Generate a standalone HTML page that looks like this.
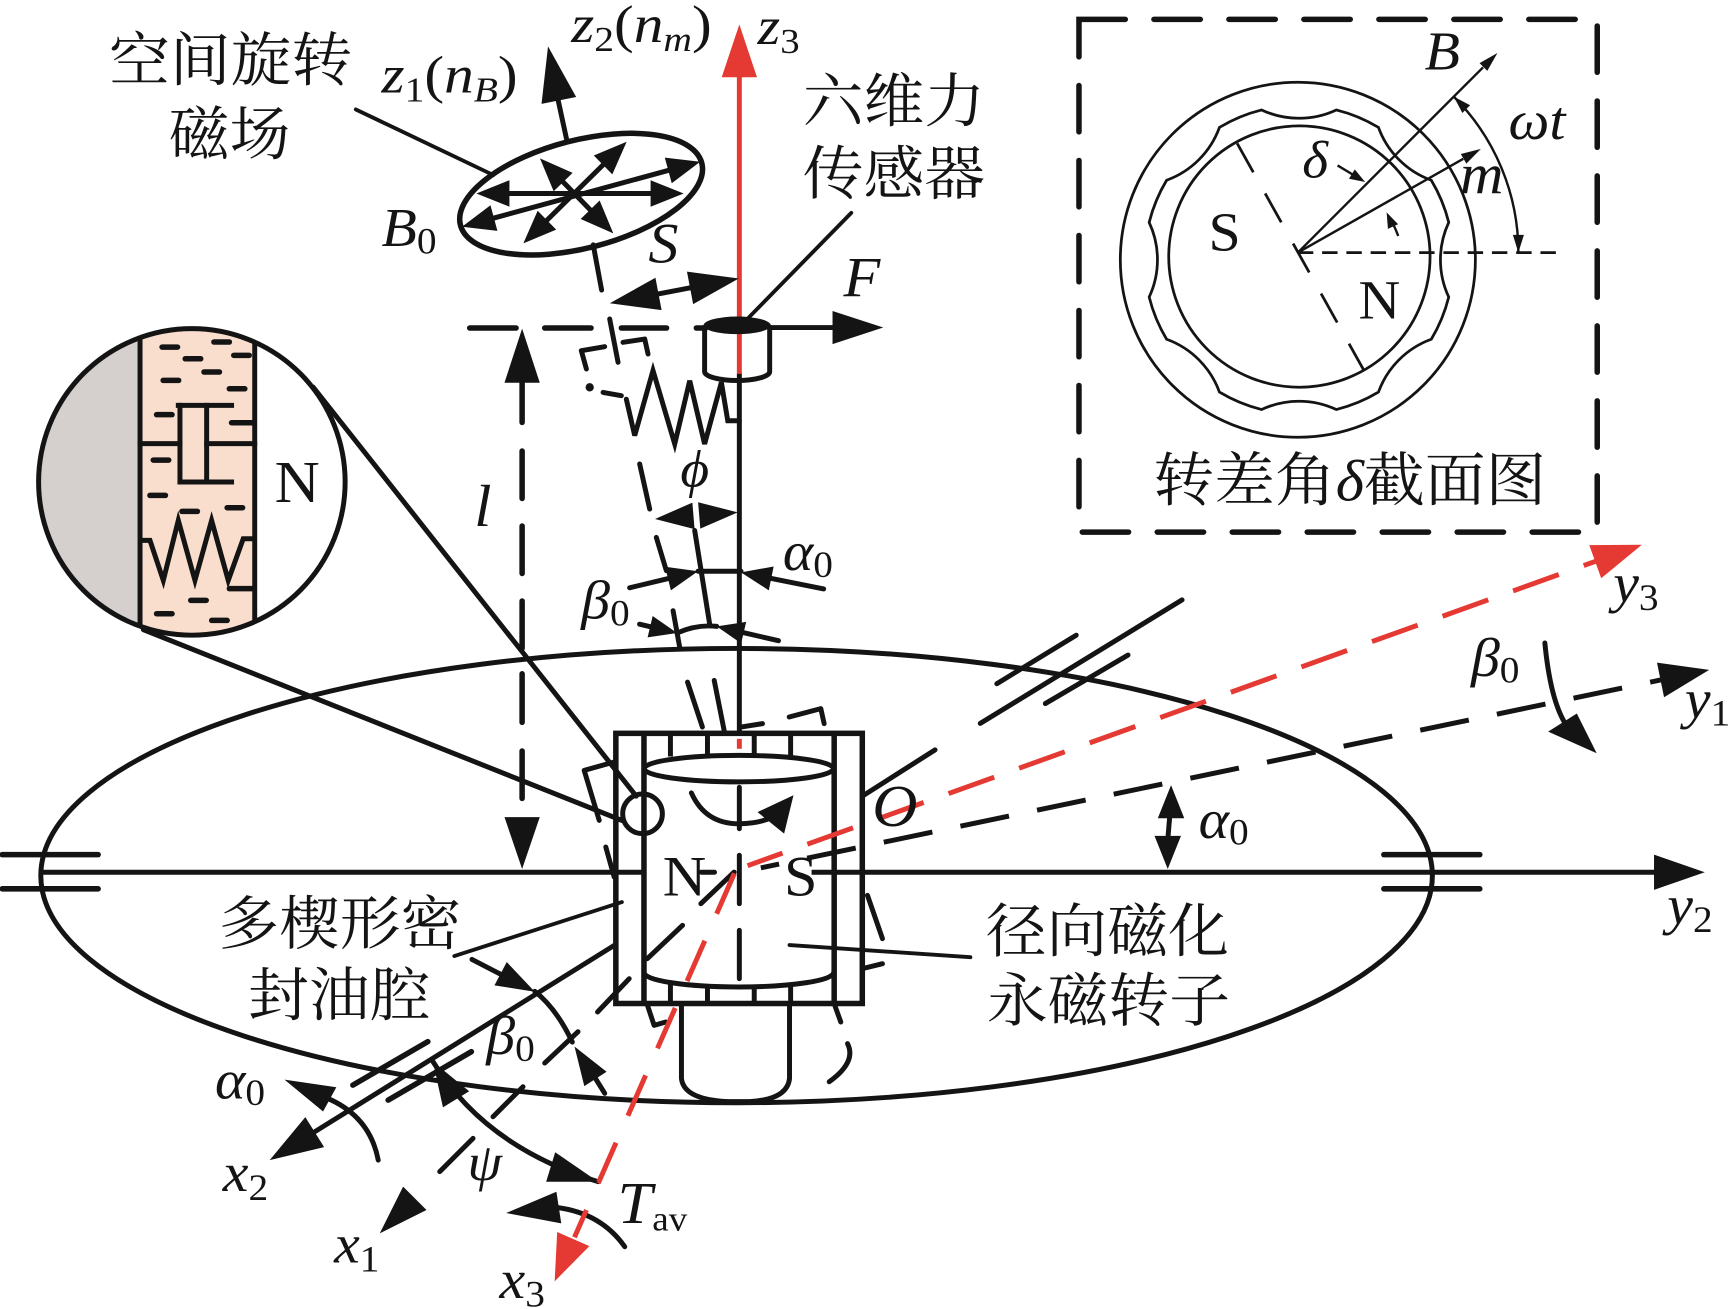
<!DOCTYPE html>
<html><head><meta charset="utf-8">
<style>
html,body{margin:0;padding:0;background:#fff;}
svg{display:block;}
text{font-family:"Liberation Serif","Noto Serif CJK SC",serif;fill:#141414;}
.it{font-style:italic;}
.up{font-style:normal;}
.cjk{font-family:"Liberation Serif","Noto Serif CJK SC",serif;font-size:53px;}
</style></head><body>
<svg width="1729" height="1309" viewBox="0 0 1568 1187" xmlns="http://www.w3.org/2000/svg">
<defs>
<clipPath id="cc"><circle cx="174" cy="437" r="139"/></clipPath>
</defs>
<rect x="0" y="0" width="1568" height="1187" fill="#fff"/>

<!-- ===== Left inset circle ===== -->
<g clip-path="url(#cc)">
  <rect x="30" y="290" width="97" height="300" fill="#d5cfcd"/>
  <rect x="127" y="290" width="104" height="300" fill="#f9dece"/>
  <g stroke="#141414" stroke-width="4.5" fill="none">
    <line x1="127" y1="290" x2="127" y2="590"/>
    <line x1="231" y1="290" x2="231" y2="590"/>
  </g>
</g>
<g stroke="#141414" stroke-width="5" stroke-linecap="round" fill="none">
  <line x1="147" y1="314.7" x2="161" y2="314.7"/>
  <line x1="194" y1="310.1" x2="208" y2="310.1"/>
  <line x1="168" y1="325.3" x2="182" y2="325.3"/>
  <line x1="212" y1="322.2" x2="226" y2="322.2"/>
  <line x1="185" y1="337.3" x2="199" y2="337.3"/>
  <line x1="148" y1="344.9" x2="162" y2="344.9"/>
  <line x1="208" y1="352.5" x2="222" y2="352.5"/>
  <line x1="142" y1="376" x2="156" y2="376"/>
  <line x1="210" y1="383.3" x2="229" y2="383.3"/>
  <line x1="139" y1="417.2" x2="153" y2="417.2"/>
  <line x1="136" y1="449.2" x2="150" y2="449.2"/>
  <line x1="165" y1="463.7" x2="179" y2="463.7"/>
  <line x1="206" y1="460.4" x2="220" y2="460.4"/>
  <line x1="208" y1="533.8" x2="229" y2="533.8"/>
  <line x1="173" y1="544.4" x2="187" y2="544.4"/>
  <line x1="142" y1="556.5" x2="156" y2="556.5"/>
  <line x1="192" y1="562.6" x2="206" y2="562.6"/>
</g>
<g stroke="#141414" stroke-width="4.5" fill="none" stroke-linecap="square">
  <line x1="161.7" y1="367.6" x2="210" y2="367.6"/>
  <line x1="163.2" y1="367.6" x2="163.2" y2="437.1"/>
  <line x1="187.4" y1="367.6" x2="187.4" y2="434"/>
  <line x1="163.2" y1="437.1" x2="210" y2="437.1"/>
  <line x1="127" y1="402.3" x2="163.2" y2="402.3"/>
  <line x1="187.4" y1="402.3" x2="231" y2="402.3"/>
  <polyline stroke-linecap="butt" points="127,490 136,490 148.1,526.3 161.7,471.9 176.8,526.3 191.9,471.9 207,526.3 220.6,488.5 231,488.5"/>
</g>
<circle cx="174" cy="437" r="139" fill="none" stroke="#141414" stroke-width="4.5"/>
<text class="up" font-size="54" transform="translate(249,455) scale(1.05,1)">N</text>

<!-- ===== Main black line work ===== -->
<g stroke="#141414" stroke-width="4.5" fill="none" stroke-linecap="round" stroke-linejoin="round">
  <ellipse cx="668" cy="794" rx="631" ry="206"/>
  <g stroke-width="5">
    <line x1="2" y1="775" x2="89" y2="775"/>
    <line x1="2" y1="806" x2="89" y2="806"/>
    <line x1="1255" y1="775" x2="1342" y2="775"/>
    <line x1="1255" y1="806" x2="1342" y2="806"/>
  </g>
  <line x1="35" y1="791" x2="584" y2="791" stroke-linecap="butt"/>
  <line x1="636" y1="791" x2="648" y2="791"/>
  <line x1="736" y1="791" x2="1502" y2="791" stroke-linecap="butt"/>

  <line x1="284" y1="351" x2="577" y2="722"/>
  <line x1="130" y1="571" x2="564" y2="744"/>
  <circle cx="582.7" cy="738" r="18"/>

  <line x1="782" y1="722" x2="848" y2="680"/>
  <line x1="889" y1="656" x2="1072" y2="544"/>
  <line x1="904" y1="620" x2="976" y2="576"/>
  <line x1="948" y1="638" x2="1023" y2="594"/>

  <line x1="716" y1="857" x2="880" y2="868" stroke-width="3.5"/>
  <line x1="412" y1="867" x2="564" y2="818" stroke-width="3.5"/>
  <line x1="677" y1="290" x2="772" y2="193" stroke-width="3.5"/>
  <line x1="322.7" y1="99.2" x2="447.4" y2="158.7" stroke-width="3.5"/>

  <line x1="670.5" y1="339" x2="670.5" y2="665"/>
  <line x1="699" y1="297" x2="757" y2="297"/>
  <g stroke-width="5">
    <line x1="426" y1="297.4" x2="468" y2="297.4"/>
    <line x1="494" y1="297.4" x2="536" y2="297.4"/>
    <line x1="563.5" y1="297.4" x2="604.5" y2="297.4"/>
    <line x1="631.5" y1="297.4" x2="640" y2="297.4"/>
  </g>
  <g stroke-width="5">
    <line x1="473.5" y1="347" x2="473.5" y2="383"/>
    <line x1="473.5" y1="409" x2="473.5" y2="452"/>
    <line x1="473.5" y1="477" x2="473.5" y2="520"/>
    <line x1="473.5" y1="545" x2="473.5" y2="588"/>
    <line x1="473.5" y1="611" x2="473.5" y2="655"/>
    <line x1="473.5" y1="681" x2="473.5" y2="724"/>
  </g>
  <line x1="597" y1="266.5" x2="626" y2="261"/>

  <!-- tilted rotating-field ellipse -->
  <ellipse cx="527" cy="176" rx="113" ry="49" transform="rotate(-14.4 527 176)" stroke-width="5"/>
  <g stroke-width="4.5">
    <line x1="462" y1="175.4" x2="590" y2="175.4"/>
    <line x1="447.9" y1="197.7" x2="606" y2="154.5"/>
    <line x1="510.7" y1="165" x2="535.2" y2="190.2"/>
    <line x1="496" y1="199.7" x2="546.9" y2="149.5"/>
  </g>
  <line x1="514" y1="127" x2="506" y2="90"/>
  <line x1="538" y1="222" x2="545.6" y2="263"/>

  <!-- tilted dashed assembly -->
  <line x1="527.2" y1="318" x2="531.8" y2="334.6"/>
  <line x1="527.2" y1="318" x2="548.4" y2="314.3"/>
  <line x1="552.9" y1="289.2" x2="560.5" y2="328.5"/>
  <polyline points="565,310.4 584.7,307.4 587.7,321"/>
  <circle cx="534.8" cy="351.2" r="1.5" fill="#141414"/>
  <line x1="546.9" y1="355.8" x2="563.5" y2="358.8"/>
  <polyline stroke-linejoin="miter" points="670.5,381.5 660,381.5 654.2,346.7 639,402.6 625.5,345.2 611.9,402.6 592.2,336 575.6,395 568,362"/>
  <line x1="580.1" y1="420.7" x2="589.2" y2="461.6"/>
  <line x1="595.2" y1="487.3" x2="604.3" y2="517.5"/>
  <line x1="610.4" y1="553.8" x2="616.4" y2="587"/>
  <line x1="623.5" y1="618.5" x2="637" y2="659.3"/>
  <line x1="630" y1="481" x2="643.6" y2="566"/>
  <line x1="647.7" y1="617" x2="656.7" y2="662.3"/>
  <line x1="571" y1="533" x2="606" y2="524.6"/>
  <line x1="747" y1="534" x2="699.4" y2="524.5"/>
  <line x1="633" y1="518" x2="672" y2="518"/>
  <line x1="580" y1="566" x2="589.6" y2="568.3"/>
  <line x1="706" y1="581" x2="674.4" y2="573.7"/>
  <path d="M614,574 Q632,566 650,568"/>

  <line x1="671.8" y1="659.3" x2="691.5" y2="656.2"/>
  <polyline points="715.7,650.2 744.4,642.6 747.4,656.2"/>
  <polyline points="557,691 529.8,698.6 543.4,743.9"/>
  <line x1="549.4" y1="768.1" x2="557" y2="795.3"/>
  <polyline points="587.2,911.7 593.2,929.8 603.8,926.8"/>
  <line x1="756.5" y1="910.2" x2="762.5" y2="926.8"/>
  <path d="M768.6,946.4 Q777,963 752,981"/>
  <line x1="786.7" y1="811.9" x2="800.3" y2="851.2"/>
  <line x1="782.2" y1="878.4" x2="800.3" y2="873.9"/>

  <!-- cylinder frame -->
  <rect x="558.5" y="665" width="223.5" height="245" stroke-width="5" stroke-linejoin="miter"/>
  <line x1="584" y1="665" x2="584" y2="910" stroke-width="5" stroke-linecap="butt"/>
  <line x1="756.5" y1="665" x2="756.5" y2="910" stroke-width="5" stroke-linecap="butt"/>
  <g stroke-linecap="butt">
    <line x1="608" y1="665" x2="608" y2="686"/>
    <line x1="641.6" y1="665" x2="641.6" y2="686"/>
    <line x1="684" y1="665" x2="684" y2="686"/>
    <line x1="717" y1="665" x2="717" y2="686"/>
    <line x1="608" y1="891" x2="608" y2="910"/>
    <line x1="641.6" y1="893" x2="641.6" y2="910"/>
    <line x1="684" y1="893" x2="684" y2="910"/>
    <line x1="717" y1="891" x2="717" y2="910"/>
  </g>
  <ellipse cx="670" cy="697" rx="86" ry="12"/>
  <path d="M584,882 A86,13 0 0,0 756,882"/>
  <path d="M627,719 Q640,748 672,747 Q695,746 705,738"/>
  <line x1="670.5" y1="714" x2="670.5" y2="751.5"/>
  <line x1="670.5" y1="775.6" x2="670.5" y2="819.5"/>
  <line x1="670.5" y1="843.7" x2="670.5" y2="887.5"/>
  <path d="M618,910 L618,978 Q620,997 660,999 L680,999 Q714,997 716,978 L716,910"/>

  <line x1="635.6" y1="819.5" x2="665.8" y2="790.8"/>
  <line x1="587" y1="869.4" x2="619" y2="839.1"/>
  <line x1="541.9" y1="917.7" x2="570.6" y2="887.5"/>
  <line x1="494" y1="964" x2="524.2" y2="935.6"/>
  <line x1="447.1" y1="1012.7" x2="474.3" y2="985.5"/>
  <line x1="398.8" y1="1062.5" x2="429" y2="1032.3"/>
  <line x1="557.5" y1="857" x2="285" y2="1026.6"/>
  <line x1="320" y1="984" x2="388" y2="944.6" stroke-width="5"/>
  <line x1="352" y1="997.6" x2="427.5" y2="953.7" stroke-width="5"/>
  <line x1="428" y1="870" x2="455" y2="884"/>
  <path d="M485,899 Q505,915 519,945"/>
  <line x1="548.4" y1="991.5" x2="540" y2="978"/>
  <path d="M392.7,962.8 Q440,1040 542.4,1071.6"/>
  <path d="M343,1052 Q335,1010 292,994"/>
  <path d="M566.6,1130.6 Q545,1100 505,1095"/>
  <line x1="1061" y1="738" x2="1059" y2="762"/>
  <path d="M1401,583 Q1406,635 1420,657"/>
</g>

<line x1="690" y1="787" x2="1506" y2="616.6" stroke="#141414" stroke-width="4.5" stroke-dasharray="45 26" stroke-dashoffset="28.1"/>

<g stroke="#e53a33" stroke-width="4.5" fill="none">
  <line x1="670.5" y1="66" x2="670.5" y2="339"/>
  <line x1="670.5" y1="670" x2="670.5" y2="679"/>
  <line x1="666" y1="792" x2="521" y2="1122" stroke-dasharray="40 26.7"/>
  <line x1="678" y1="785" x2="1447" y2="509" stroke-dasharray="44 24" stroke-dashoffset="10.4"/>
</g>
<g fill="#e53a33">
  <polygon points="670.5,22 686.5,70 654.5,70"/>
  <polygon points="503,1162 505.3,1117.2 534.5,1130"/>
  <polygon points="1489,494 1452.1,524.3 1441.3,494.3"/>
</g>

<path d="M639,295 L639,337 A29.5,8 0 0,0 698,337 L698,295" fill="none" stroke="#141414" stroke-width="4.5"/>
<ellipse cx="668.5" cy="295" rx="30.5" ry="8" fill="#141414"/>

<g fill="#141414">
  <polygon points="801,297 755,282 755,312"/>
  <polygon points="473.5,298 489.5,347 457.5,347"/>
  <polygon points="473.5,788 457.5,741 489.5,741"/>
  <polygon points="670,252.5 628.6,275.7 623,246.3"/>
  <polygon points="553,275 600,281.2 594.4,251.8"/>
  <polygon points="497,42 522.5,87.9 491.1,94.1"/>
  <!-- ellipse arrows -->
  <polygon points="620,175.4 590,163.4 590,187.4"/>
  <polygon points="432,175.4 462,163.4 462,187.4"/>
  <polygon points="635,146.6 609.2,166.1 602.9,142.9"/>
  <polygon points="419,205.6 451.1,209.3 444.8,186.1"/>
  <polygon points="556.2,211.6 526.6,198.5 543.8,181.8"/>
  <polygon points="489.7,143.6 502.1,173.4 519.3,156.7"/>
  <polygon points="568.3,128.5 555.3,158.1 538.5,141"/>
  <polygon points="474.6,220.7 504.4,208.2 487.6,191.1"/>
  <!-- phi -->
  <polygon points="669,464.6 635.1,479.4 633.1,455.4"/>
  <polygon points="594,470.6 629.9,479.8 627.9,455.8"/>
  <polygon points="633,518 608.4,535.3 603.2,513.9"/>
  <polygon points="672,519 701.6,513.7 697.2,535.3"/>
  <polygon points="614,574 587.3,578 591.9,558.6"/>
  <polygon points="650,568 676.7,563.9 672.1,583.4"/>
  <polygon points="719.6,721.2 687,736.4 711.1,756"/>
  <polygon points="1550,607.5 1509.1,632.3 1502.7,600.9"/>
  <polygon points="1546,791 1500,775 1500,807"/>
  <polygon points="344.4,1118.5 365.6,1076.1 386.8,1097.3"/>
  <polygon points="244.6,1052 276.9,1013 293.9,1040.2"/>
  <polygon points="485,899.3 448.4,893.6 459.6,872.4"/>
  <polygon points="521,949 550.1,971.9 529.9,984.9"/>
  <polygon points="392.7,962.8 425.5,989.6 401.7,1004.2"/>
  <polygon points="542.4,1071.6 495.3,1071.7 503.5,1044.9"/>
  <polygon points="258,979 305,986 293,1008"/>
  <polygon points="459,1100 504.6,1080.7 509,1109.4"/>
  <polygon points="1062,712 1074,742 1050,742"/>
  <polygon points="1059,788 1047,758 1071,758"/>
  <polygon points="1448,683 1404,663.5 1430,647"/>
</g>

<!-- ===== Right inset box ===== -->
<rect x="978.5" y="17.5" width="470" height="465" fill="none" stroke="#141414" stroke-width="5" stroke-dasharray="42 26" stroke-linecap="round"/>
<g stroke="#141414" fill="none" stroke-width="2.5">
  <circle cx="1177" cy="235.5" r="161"/>
  <circle cx="1178.4" cy="232.6" r="118.5"/>
  <path d="M1144.13,99.66 A80,80 0 0,0 1211.87,99.66 A140,140 0 0,1 1250.10,115.49 A80,80 0 0,0 1298.01,163.40 A140,140 0 0,1 1313.84,201.63 A80,80 0 0,0 1313.84,269.37 A140,140 0 0,1 1298.01,307.60 A80,80 0 0,0 1250.10,355.51 A140,140 0 0,1 1211.87,371.34 A80,80 0 0,0 1144.13,371.34 A140,140 0 0,1 1105.90,355.51 A80,80 0 0,0 1057.99,307.60 A140,140 0 0,1 1042.16,269.37 A80,80 0 0,0 1042.16,201.63 A140,140 0 0,1 1057.99,163.40 A80,80 0 0,0 1105.90,115.49 A140,140 0 0,1 1144.13,99.66 Z"/>
  <line x1="1177" y1="229" x2="1411" y2="229" stroke-dasharray="14 8"/>
  <line x1="1122" y1="130" x2="1237" y2="336" stroke-dasharray="30 22"/>
  <line x1="1177" y1="229" x2="1345" y2="61" stroke-width="2.2"/>
  <line x1="1177" y1="229" x2="1327" y2="144" stroke-width="2.2"/>
  <path d="M1318.4,87.6 A200,200 0 0,1 1377,229" stroke-width="2.2"/>
  <line x1="1213" y1="150" x2="1228" y2="159" stroke-width="2.2"/>
  <path d="M1268,214 A92,92 0 0,0 1260,197" stroke-width="2.2"/>
</g>
<g fill="#141414">
  <polygon points="1358,48 1348.8,64.2 1341.8,57.2"/>
  <polygon points="1343,135 1329.8,148.3 1324.8,139.6"/>
  <polygon points="1318.4,87.6 1333.2,95.4 1326.2,102.4"/>
  <polygon points="1377,229 1372,213 1382,213"/>
  <polygon points="1238,165 1223.4,162.1 1228.6,153.5"/>
  <polygon points="1257.5,192.6 1267.9,203.3 1258.7,207.5"/>
</g>

<!-- ===== Text: CJK ===== -->
<text class="cjk" transform="translate(99,73) scale(1.04,1)">空间旋转</text>
<text class="cjk" transform="translate(153,140) scale(1.04,1)">磁场</text>
<text class="cjk" transform="translate(728,110) scale(1.04,1)">六维力</text>
<text class="cjk" transform="translate(728,176) scale(1.04,1)">传感器</text>
<text class="cjk" transform="translate(198,856) scale(1.04,1)">多楔形密</text>
<text class="cjk" transform="translate(225,921) scale(1.04,1)">封油腔</text>
<text class="cjk" transform="translate(894,863) scale(1.04,1)">径向磁化</text>
<text class="cjk" transform="translate(895,926) scale(1.04,1)">永磁转子</text>
<text class="cjk" font-size="54" transform="translate(1046,454) scale(1.04,1)">转差角<tspan class="it" font-family="Liberation Serif">δ</tspan>截面图</text>

<!-- ===== Text: math labels ===== -->
<text class="it" font-size="48" transform="translate(346,84) scale(1.12,1)">z<tspan class="up" font-size="32" dy="8">1</tspan><tspan class="up" dy="-8">(</tspan>n<tspan font-size="32" dy="8">B</tspan><tspan class="up" dy="-8">)</tspan></text>
<text class="it" font-size="48" transform="translate(518,38) scale(1.12,1)">z<tspan class="up" font-size="32" dy="8">2</tspan><tspan class="up" dy="-8">(</tspan>n<tspan font-size="32" dy="8">m</tspan><tspan class="up" dy="-8">)</tspan></text>
<text class="it" font-size="48" transform="translate(687,40) scale(1.1,1)">z<tspan class="up" font-size="32" dy="8">3</tspan></text>
<text class="it" font-size="50" transform="translate(346,223) scale(1.05,1)">B<tspan class="up" font-size="34" dy="7">0</tspan></text>
<text class="it" font-size="52" transform="translate(588,238) scale(1.05,1)">S</text>
<text class="it" font-size="52" transform="translate(765,269) scale(1.05,1)">F</text>
<text class="it" font-size="54" transform="translate(430,477) scale(1.05,1)">l</text>
<text class="it" font-size="48" transform="translate(617,441) scale(1.05,1)">ϕ</text>
<text class="it" font-size="50" transform="translate(710,517) scale(1.05,1)">α<tspan class="up" font-size="34" dy="6">0</tspan></text>
<text class="it" font-size="50" transform="translate(527,561) scale(1.05,1)">β<tspan class="up" font-size="34" dy="6">0</tspan></text>
<text class="it" font-size="54" transform="translate(791,749) scale(1.05,1)">O</text>
<text class="it" font-size="50" transform="translate(1087,760) scale(1.05,1)">α<tspan class="up" font-size="34" dy="6">0</tspan></text>
<text class="it" font-size="50" transform="translate(1512,838) scale(1.05,1)">y<tspan class="up" font-size="34" dy="7">2</tspan></text>
<text class="it" font-size="50" transform="translate(1528,651) scale(1.05,1)">y<tspan class="up" font-size="34" dy="7">1</tspan></text>
<text class="it" font-size="50" transform="translate(1463,546) scale(1.05,1)">y<tspan class="up" font-size="34" dy="7">3</tspan></text>
<text class="it" font-size="50" transform="translate(1334,613) scale(1.05,1)">β<tspan class="up" font-size="34" dy="6">0</tspan></text>
<text class="it" font-size="50" transform="translate(195,996) scale(1.05,1)">α<tspan class="up" font-size="34" dy="6">0</tspan></text>
<text class="it" font-size="50" transform="translate(202,1080) scale(1.05,1)">x<tspan class="up" font-size="34" dy="8">2</tspan></text>
<text class="it" font-size="50" transform="translate(303,1145) scale(1.05,1)">x<tspan class="up" font-size="34" dy="8">1</tspan></text>
<text class="it" font-size="50" transform="translate(453,1177) scale(1.05,1)">x<tspan class="up" font-size="34" dy="8">3</tspan></text>
<text class="it" font-size="48" transform="translate(424,1070) scale(1.05,1)">ψ</text>
<text class="it" font-size="50" transform="translate(441,956) scale(1.05,1)">β<tspan class="up" font-size="34" dy="6">0</tspan></text>
<text class="it" font-size="54" transform="translate(560,1109) scale(1.05,1)">T<tspan class="up" font-size="32" dy="7">av</tspan></text>

<text class="up" font-size="52" transform="translate(601,812) scale(1.05,1)">N</text>
<text class="up" font-size="52" transform="translate(711,812) scale(1.05,1)">S</text>

<text class="it" font-size="50" transform="translate(1292,63) scale(1.05,1)">B</text>
<text class="it" font-size="52" transform="translate(1324,175) scale(1.05,1)">m</text>
<text class="it" font-size="50" transform="translate(1368,126) scale(1.05,1)">ωt</text>
<text class="it" font-size="48" transform="translate(1181,161) scale(1.05,1)">δ</text>
<text class="up" font-size="50" transform="translate(1096,227) scale(1.05,1)">S</text>
<text class="up" font-size="50" transform="translate(1232,289) scale(1.05,1)">N</text>
</svg>
</body></html>
